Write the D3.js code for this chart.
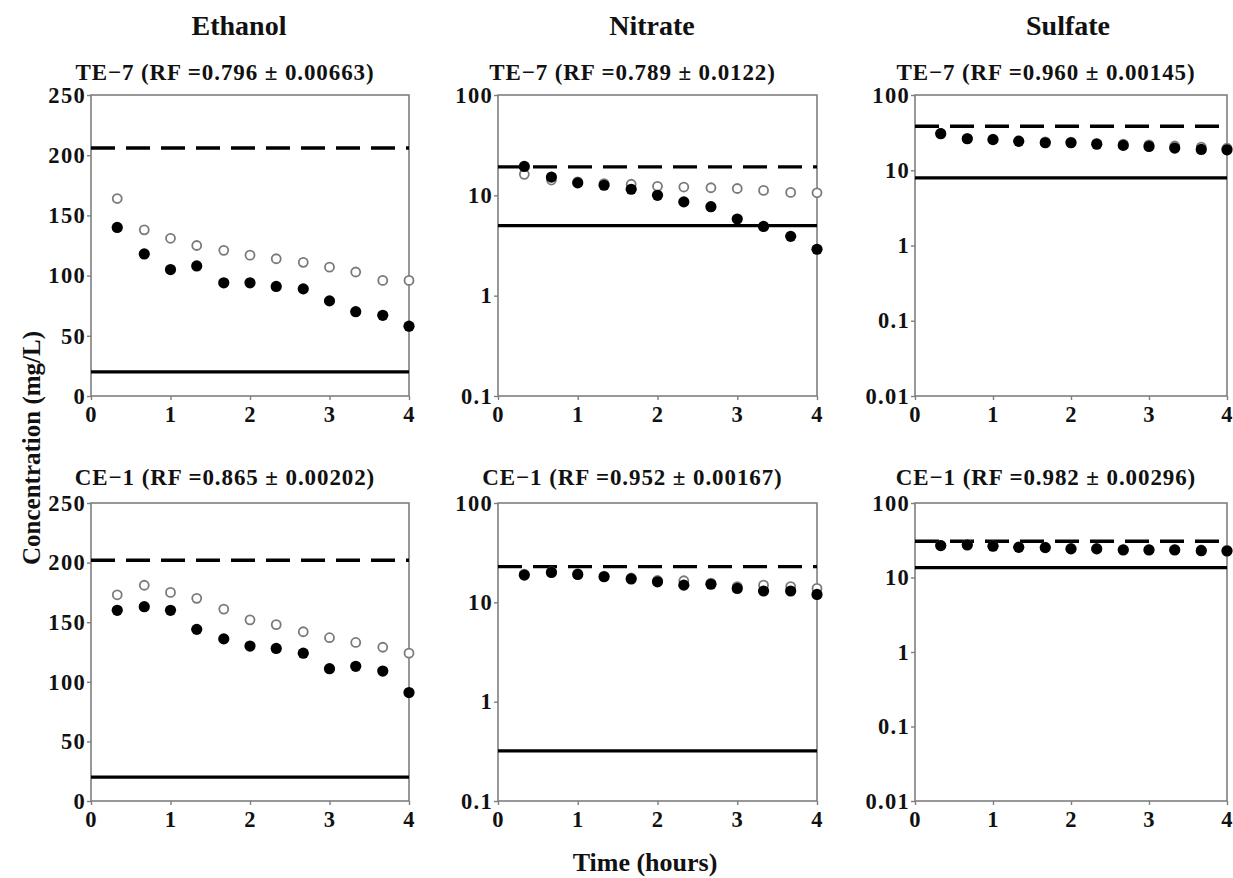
<!DOCTYPE html>
<html>
<head>
<meta charset="utf-8">
<script src="https://cdn.jsdelivr.net/npm/d3@7"></script>
<style>
  html, body { margin: 0; padding: 0; background: #fff; }
  svg { display: block; }
  text { font-family: "Liberation Serif", "Times New Roman", serif; font-weight: bold; fill: #111; }
</style>
</head>
<body>
<svg id="chart" width="1233" height="878"></svg>
<script>
// Sampling times (hours)
const times = [0.33, 0.67, 1.0, 1.33, 1.67, 2.0, 2.33, 2.67, 3.0, 3.33, 3.67, 4.0];

// Column headings and row membrane labels
const analytes = ["Ethanol", "Nitrate", "Sulfate"];
const panelTitles = [
  "TE\u22127 (RF =0.796 \u00b1 0.00663)", "TE\u22127 (RF =0.789 \u00b1 0.0122)", "TE\u22127 (RF =0.960 \u00b1 0.00145)",
  "CE\u22121 (RF =0.865 \u00b1 0.00202)", "CE\u22121 (RF =0.952 \u00b1 0.00167)", "CE\u22121 (RF =0.982 \u00b1 0.00296)"
];

// Ethanol, TE-7
const ethanolTE7Open   = [164, 138, 131, 125, 121, 117, 114, 111, 107, 103, 96, 96];
const ethanolTE7Filled = [140, 118, 105, 108, 94, 94, 91, 89, 79, 70, 67, 58];
const ethanolTE7Dashed = 206;
const ethanolTE7Solid  = 20;

// Nitrate, TE-7
const nitrateTE7Open   = [16.2, 14.2, 13.6, 13.1, 12.9, 12.3, 12.1, 11.9, 11.7, 11.2, 10.7, 10.6];
const nitrateTE7Filled = [19.4, 15.2, 13.3, 12.6, 11.5, 10.0, 8.6, 7.7, 5.8, 4.9, 3.9, 2.9];
const nitrateTE7Dashed = 19.2;
const nitrateTE7Solid  = 5.0;

// Sulfate, TE-7
const sulfateTE7Open   = [31.0, 26.6, 25.9, 24.7, 23.8, 23.7, 22.8, 22.2, 21.8, 21.0, 20.3, 19.6];
const sulfateTE7Filled = [30.6, 26.2, 25.5, 24.2, 23.2, 23.2, 22.2, 21.4, 20.7, 19.7, 18.9, 18.7];
const sulfateTE7Dashed = 38.4;
const sulfateTE7Solid  = 7.9;

// Ethanol, CE-1
const ethanolCE1Open   = [173, 181, 175, 170, 161, 152, 148, 142, 137, 133, 129, 124];
const ethanolCE1Filled = [160, 163, 160, 144, 136, 130, 128, 124, 111, 113, 109, 91];
const ethanolCE1Dashed = 202;
const ethanolCE1Solid  = 20;

// Nitrate, CE-1
const nitrateCE1Open   = [19.2, 20.3, 19.4, 18.4, 17.6, 16.6, 16.5, 15.6, 14.4, 14.9, 14.4, 13.8];
const nitrateCE1Filled = [18.8, 20.0, 19.1, 18.1, 17.2, 16.1, 14.9, 15.2, 13.8, 13.0, 13.0, 12.0];
const nitrateCE1Dashed = 22.9;
const nitrateCE1Solid  = 0.32;

// Sulfate, CE-1
const sulfateCE1Open   = [27.0, 27.6, 26.6, 25.7, 25.5, 24.6, 24.5, 23.8, 23.8, 23.8, 23.4, 23.2];
const sulfateCE1Filled = [26.8, 27.3, 26.3, 25.4, 25.2, 24.2, 24.2, 23.4, 23.4, 23.4, 22.9, 22.7];
const sulfateCE1Dashed = 30.7;
const sulfateCE1Solid  = 13.6;

// Axis tick values
const xTicks = [0, 1, 2, 3, 4];
const linearTicks = [0, 50, 100, 150, 200, 250];
const nitrateTicks = [0.1, 1, 10, 100];
const sulfateTicks = [0.01, 0.1, 1, 10, 100];

// Panel layout
const colX = [[91, 409], [498, 817], [915, 1227]];
const rowY = [[95, 396], [503, 801]];
const colTitleX = [239, 652, 1068];

const panels = [
  { open: ethanolTE7Open, filled: ethanolTE7Filled, dashed: ethanolTE7Dashed, solid: ethanolTE7Solid, kind: "lin", ticks: linearTicks, dom: [0, 250] },
  { open: nitrateTE7Open, filled: nitrateTE7Filled, dashed: nitrateTE7Dashed, solid: nitrateTE7Solid, kind: "log", ticks: nitrateTicks, dom: [0.1, 100] },
  { open: sulfateTE7Open, filled: sulfateTE7Filled, dashed: sulfateTE7Dashed, solid: sulfateTE7Solid, kind: "log", ticks: sulfateTicks, dom: [0.01, 100] },
  { open: ethanolCE1Open, filled: ethanolCE1Filled, dashed: ethanolCE1Dashed, solid: ethanolCE1Solid, kind: "lin", ticks: linearTicks, dom: [0, 250] },
  { open: nitrateCE1Open, filled: nitrateCE1Filled, dashed: nitrateCE1Dashed, solid: nitrateCE1Solid, kind: "log", ticks: nitrateTicks, dom: [0.1, 100] },
  { open: sulfateCE1Open, filled: sulfateCE1Filled, dashed: sulfateCE1Dashed, solid: sulfateCE1Solid, kind: "log", ticks: sulfateTicks, dom: [0.01, 100] }
];

const svg = d3.select("#chart");
svg.append("rect").attr("width", 1233).attr("height", 878).attr("fill", "#fff");

const frameColor = "#7f7f7f";

panels.forEach((p, i) => {
  const col = i % 3, row = Math.floor(i / 3);
  const [x0, x1] = colX[col];
  const [y0, y1] = rowY[row];

  const x = d3.scaleLinear().domain([0, 4]).range([x0, x1]);
  const y = (p.kind === "log" ? d3.scaleLog() : d3.scaleLinear()).domain(p.dom).range([y1, y0]);

  const g = svg.append("g");

  // plot frame
  g.append("rect")
    .attr("x", x0).attr("y", y0)
    .attr("width", x1 - x0).attr("height", y1 - y0)
    .attr("fill", "none").attr("stroke", frameColor).attr("stroke-width", 1.6);

  // axes
  const yAxis = d3.axisLeft(y).tickValues(p.ticks).tickSize(4).tickPadding(1)
    .tickFormat(d => String(d));
  const xAxis = d3.axisBottom(x).tickValues(xTicks).tickSize(4).tickPadding(6)
    .tickFormat(d3.format("d"));

  const ya = g.append("g").attr("transform", `translate(${x0},0)`).call(yAxis);
  const xa = g.append("g").attr("transform", `translate(0,${y1})`).call(xAxis);
  [ya, xa].forEach(a => {
    a.select(".domain").remove();
    a.selectAll(".tick line").attr("stroke", frameColor).attr("stroke-width", 1.4);
    a.selectAll(".tick text")
      .style("font-family", '"Liberation Serif", "Times New Roman", serif')
      .style("font-weight", "bold")
      .style("font-size", "22.5px")
      .style("letter-spacing", "1.3px")
      .attr("fill", "#111");
  });

  // reference lines
  g.append("line")
    .attr("x1", x(0)).attr("x2", x(4))
    .attr("y1", y(p.dashed)).attr("y2", y(p.dashed))
    .attr("stroke", "#000").attr("stroke-width", 3.4)
    .attr("stroke-dasharray", "24 11");
  g.append("line")
    .attr("x1", x(0)).attr("x2", x(4))
    .attr("y1", y(p.solid)).attr("y2", y(p.solid))
    .attr("stroke", "#000").attr("stroke-width", 3.2);

  // open markers first, filled markers on top
  g.selectAll("circle.open").data(times.map((t, k) => [t, p.open[k]]))
    .join("circle").attr("class", "open")
    .attr("cx", d => x(d[0])).attr("cy", d => y(d[1]))
    .attr("r", 4.5)
    .attr("fill", "#fff").attr("stroke", "#7a7a7a").attr("stroke-width", 1.8);
  g.selectAll("circle.filled").data(times.map((t, k) => [t, p.filled[k]]))
    .join("circle").attr("class", "filled")
    .attr("cx", d => x(d[0])).attr("cy", d => y(d[1]))
    .attr("r", 5.6)
    .attr("fill", "#000");

  // panel title
  svg.append("text")
    .attr("x", (x0 + x1) / 2 - 25)
    .attr("y", row === 0 ? 80 : 485)
    .attr("text-anchor", "middle")
    .style("font-size", "23px")
    .style("letter-spacing", "0.9px")
    .text(panelTitles[i]);
});

// column headings
analytes.forEach((a, c) => {
  svg.append("text")
    .attr("x", colTitleX[c]).attr("y", 35)
    .attr("text-anchor", "middle")
    .style("font-size", "28px")
    .text(a);
});

// axis titles
svg.append("text")
  .attr("transform", "translate(40,448) rotate(-90)")
  .attr("text-anchor", "middle")
  .style("font-size", "25px")
  .text("Concentration (mg/L)");

svg.append("text")
  .attr("x", 645).attr("y", 871)
  .attr("text-anchor", "middle")
  .style("font-size", "26px")
  .text("Time (hours)");
</script>
</body>
</html>
